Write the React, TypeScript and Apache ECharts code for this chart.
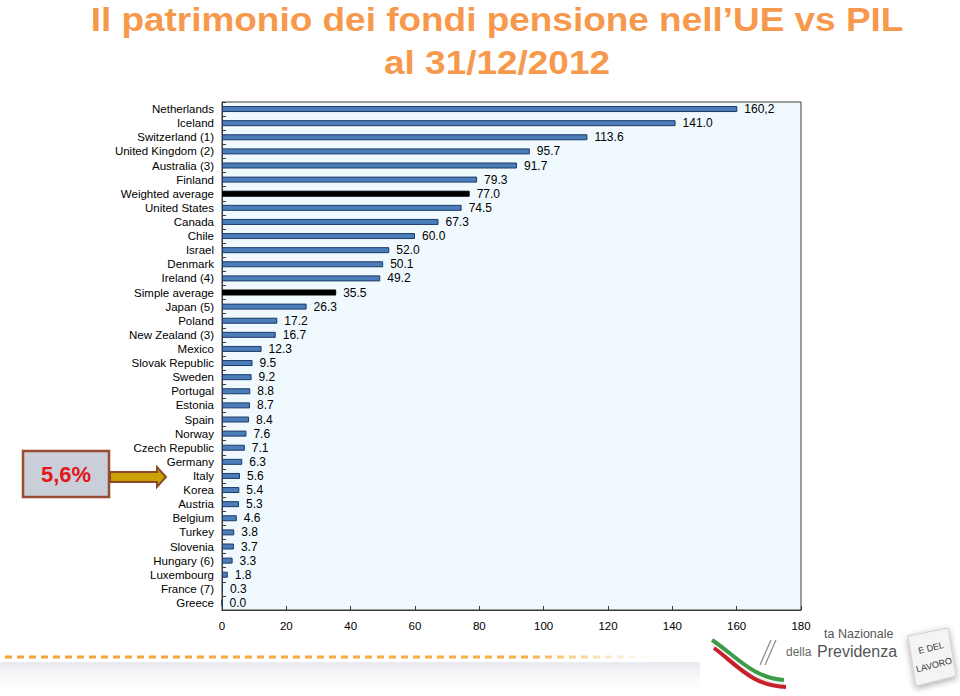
import React, { useEffect, useRef } from "react";
import * as echarts from "echarts";

const categories = [
  "Netherlands", "Iceland", "Switzerland (1)", "United Kingdom (2)", "Australia (3)", "Finland",
  "Weighted average", "United States", "Canada", "Chile", "Israel", "Denmark", "Ireland (4)",
  "Simple average", "Japan (5)", "Poland", "New Zealand (3)", "Mexico", "Slovak Republic",
  "Sweden", "Portugal", "Estonia", "Spain", "Norway", "Czech Republic", "Germany", "Italy",
  "Korea", "Austria", "Belgium", "Turkey", "Slovenia", "Hungary (6)", "Luxembourg",
  "France (7)", "Greece",
];

const values = [
  160.2, 141.0, 113.6, 95.7, 91.7, 79.3, 77.0, 74.5, 67.3, 60.0, 52.0, 50.1, 49.2, 35.5, 26.3,
  17.2, 16.7, 12.3, 9.5, 9.2, 8.8, 8.7, 8.4, 7.6, 7.1, 6.3, 5.6, 5.4, 5.3, 4.6, 3.8, 3.7, 3.3,
  1.8, 0.3, 0.0,
];

const averageRows = ["Weighted average", "Simple average"];
const commaDecimalRows = ["Netherlands"];

const xTicks = [0, 20, 40, 60, 80, 100, 120, 140, 160, 180];

const titleLines = ["Il patrimonio dei fondi pensione nell\u2019UE vs PIL", "al 31/12/2012"];
const calloutText = "5,6%";

export default function App() {
  const ref = useRef<HTMLDivElement>(null);

  useEffect(() => {
    if (!ref.current) return;
    const chart = echarts.init(ref.current, null, { renderer: "svg" });

    const data = values.map((v, i) => {
      const isAvg = averageRows.includes(categories[i]);
      return {
        value: v,
        itemStyle: isAvg
          ? { color: "#000000", borderColor: "#000000", borderWidth: 1 }
          : { color: "#4A7DBA", borderColor: "#1E3A66", borderWidth: 1 },
      };
    });

    const font = "'Liberation Sans', Arial, sans-serif";

    chart.setOption({
      animation: false,
      backgroundColor: "#ffffff",
      grid: {
        left: 222,
        right: 159,
        top: 102,
        bottom: 86,
        show: true,
        backgroundColor: "#F0FAFE",
        borderColor: "#3a3a3a",
        borderWidth: 1,
      },
      xAxis: {
        type: "value",
        min: xTicks[0],
        max: xTicks[xTicks.length - 1],
        interval: 20,
        axisLine: { show: true, lineStyle: { color: "#3a3a3a", width: 1 } },
        axisTick: { show: true, inside: true, length: 4, lineStyle: { color: "#3a3a3a" } },
        splitLine: { show: false },
        axisLabel: { color: "#000", fontSize: 11.5, fontFamily: font, margin: 10 },
      },
      yAxis: {
        type: "category",
        data: categories,
        inverse: true,
        axisLine: { show: true, lineStyle: { color: "#3a3a3a", width: 1 } },
        axisTick: { show: true, inside: true, length: 4, interval: 0, lineStyle: { color: "#3a3a3a" } },
        axisLabel: { color: "#000", fontSize: 11.5, fontFamily: font, margin: 8, interval: 0 },
        splitLine: { show: false },
      },
      series: [
        {
          type: "bar",
          data,
          barWidth: 6,
          label: {
            show: true,
            position: "right",
            distance: 7,
            color: "#000",
            fontSize: 12,
            fontFamily: font,
            formatter: (p: any) => {
              const s = Number(p.value).toFixed(1);
              return commaDecimalRows.includes(p.name) ? s.replace(".", ",") : s;
            },
          },
        },
      ],
      graphic: [
        {
          type: "text",
          x: 497,
          y: 19,
          scaleX: 1.12,
          style: {
            text: titleLines[0],
            fill: "#F7994C",
            font: `bold 33px ${font}`,
            align: "center",
            verticalAlign: "middle",
          },
        },
        {
          type: "text",
          x: 497,
          y: 62,
          scaleX: 1.12,
          style: {
            text: titleLines[1],
            fill: "#F7994C",
            font: `bold 33px ${font}`,
            align: "center",
            verticalAlign: "middle",
          },
        },
        // callout box
        {
          type: "rect",
          shape: { x: 23, y: 451, width: 86, height: 46 },
          style: { fill: "#C9CED8", stroke: "#9A4B33", lineWidth: 2.5 },
        },
        {
          type: "text",
          x: 66,
          y: 474,
          style: {
            text: calloutText,
            fill: "#E3161C",
            font: `bold 22px ${font}`,
            align: "center",
            verticalAlign: "middle",
          },
        },
        {
          type: "polygon",
          shape: {
            points: [
              [110, 472], [157, 472], [157, 467], [166, 477], [157, 487], [157, 482], [110, 482],
            ],
          },
          style: { fill: "#C9A200", stroke: "#8A4A2B", lineWidth: 2 },
        },
        // bottom decoration band
        {
          type: "rect",
          shape: { x: 0, y: 662, width: 700, height: 34 },
          style: {
            fill: new echarts.graphic.LinearGradient(0, 0, 0, 1, [
              { offset: 0, color: "rgba(225,228,234,0.8)" },
              { offset: 1, color: "rgba(255,255,255,0)" },
            ]),
          },
          silent: true,
        },
        {
          type: "line",
          shape: { x1: 5, y1: 657, x2: 660, y2: 657 },
          style: {
            stroke: new echarts.graphic.LinearGradient(5, 0, 660, 0, [
              { offset: 0, color: "#F2A33A" },
              { offset: 0.8, color: "#F5B04A" },
              { offset: 1, color: "rgba(246,200,120,0)" },
            ], true),
            lineWidth: 3,
            lineDash: [7, 5],
          },
        },
        // swoosh
        {
          type: "bezierCurve",
          shape: { x1: 712, y1: 640, cpx1: 735, cpy1: 655, cpx2: 752, cpy2: 678, x2: 784, y2: 680 },
          style: { stroke: "#3E9B47", lineWidth: 4, fill: null },
        },
        {
          type: "bezierCurve",
          shape: { x1: 712, y1: 645, cpx1: 734, cpy1: 660, cpx2: 750, cpy2: 682, x2: 784, y2: 684 },
          style: { stroke: "#E6E6E6", lineWidth: 2, fill: null },
        },
        {
          type: "bezierCurve",
          shape: { x1: 714, y1: 648, cpx1: 736, cpy1: 664, cpx2: 752, cpy2: 686, x2: 786, y2: 687 },
          style: { stroke: "#C8202A", lineWidth: 4, fill: null },
        },
        {
          type: "line",
          shape: { x1: 771, y1: 640, x2: 760, y2: 665 },
          style: { stroke: "#888", lineWidth: 1.2 },
        },
        {
          type: "line",
          shape: { x1: 776, y1: 640, x2: 765, y2: 665 },
          style: { stroke: "#888", lineWidth: 1.2 },
        },
        {
          type: "text",
          x: 824,
          y: 634,
          style: { text: "ta Nazionale", fill: "#555", font: `12.5px ${font}`, verticalAlign: "middle" },
        },
        {
          type: "text",
          x: 786,
          y: 652,
          style: { text: "della", fill: "#666", font: `12px ${font}`, verticalAlign: "middle" },
        },
        {
          type: "text",
          x: 817,
          y: 651,
          style: { text: "Previdenza", fill: "#555", font: `16px ${font}`, verticalAlign: "middle" },
        },
        // note "E DEL LAVORO"
        {
          type: "polygon",
          shape: { points: [[908, 636], [948, 628], [956, 676], [916, 686]] },
          style: { fill: "#f4f4f4", stroke: "#cfcfcf", lineWidth: 1, shadowBlur: 6, shadowColor: "rgba(0,0,0,0.35)", shadowOffsetY: 2 },
        },
        {
          type: "text",
          x: 931,
          y: 648,
          rotation: 0.25,
          style: { text: "E DEL", fill: "#333", font: `9px ${font}`, align: "center", verticalAlign: "middle" },
        },
        {
          type: "text",
          x: 934,
          y: 665,
          rotation: 0.25,
          style: { text: "LAVORO", fill: "#333", font: `9px ${font}`, align: "center", verticalAlign: "middle" },
        },
      ],
    });

    return () => chart.dispose();
  }, []);

  return (
    <div
      ref={ref}
      style={{ position: "fixed", left: 0, top: 0, width: 960, height: 696 }}
    />
  );
}
